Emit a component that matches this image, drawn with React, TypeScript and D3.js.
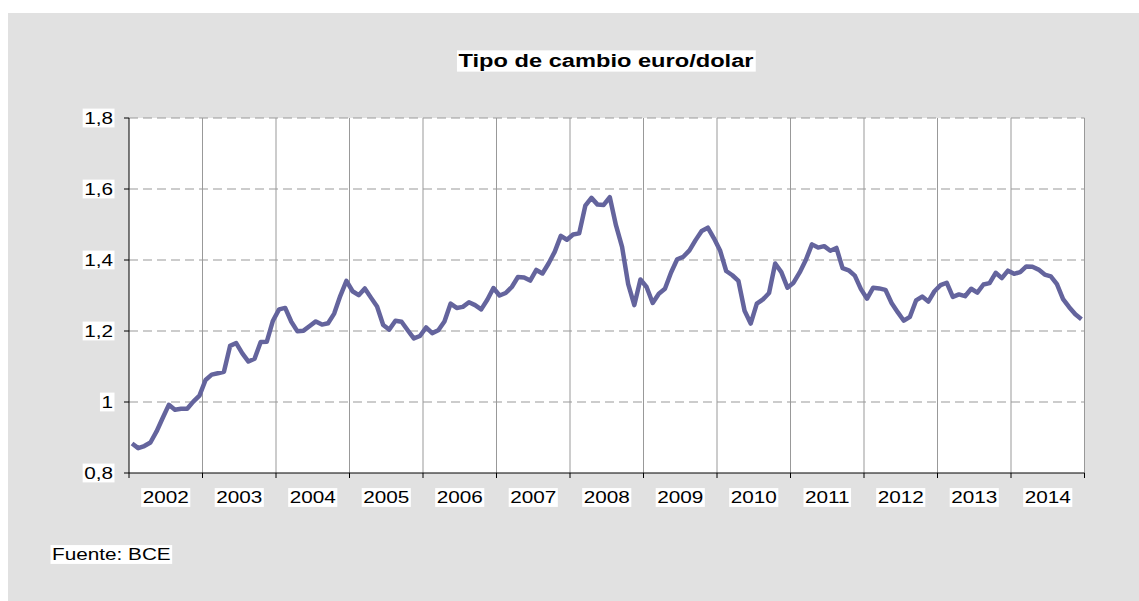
import React, { useEffect, useRef } from 'react';
import * as d3 from 'd3';

// monthly averages USD per EUR (ECB), Jan 2002 - Dec 2014
const years = [2002, 2003, 2004, 2005, 2006, 2007, 2008, 2009, 2010, 2011, 2012, 2013, 2014];
const rates = [
  0.883, 0.870, 0.876, 0.886, 0.917, 0.955, 0.992, 0.978, 0.981, 0.981, 1.001, 1.018,
  1.062, 1.077, 1.081, 1.085, 1.158, 1.166, 1.137, 1.114, 1.122, 1.169, 1.170, 1.229,
  1.261, 1.265, 1.226, 1.199, 1.201, 1.214, 1.227, 1.218, 1.222, 1.249, 1.299, 1.341,
  1.312, 1.301, 1.320, 1.294, 1.269, 1.217, 1.204, 1.229, 1.226, 1.202, 1.179, 1.186,
  1.210, 1.194, 1.202, 1.227, 1.277, 1.265, 1.268, 1.281, 1.273, 1.261, 1.288, 1.321,
  1.300, 1.307, 1.324, 1.352, 1.351, 1.342, 1.372, 1.362, 1.390, 1.423, 1.468, 1.457,
  1.472, 1.475, 1.553, 1.575, 1.556, 1.555, 1.577, 1.498, 1.437, 1.332, 1.273, 1.345,
  1.324, 1.279, 1.305, 1.319, 1.365, 1.402, 1.409, 1.427, 1.456, 1.482, 1.491, 1.461,
  1.427, 1.369, 1.357, 1.341, 1.257, 1.221, 1.277, 1.289, 1.307, 1.390, 1.366, 1.322,
  1.336, 1.365, 1.400, 1.444, 1.435, 1.439, 1.426, 1.434, 1.377, 1.371, 1.356, 1.318,
  1.291, 1.322, 1.320, 1.316, 1.279, 1.253, 1.229, 1.240, 1.286, 1.297, 1.283, 1.312,
  1.329, 1.336, 1.296, 1.303, 1.298, 1.319, 1.308, 1.331, 1.335, 1.364, 1.349, 1.370,
  1.361, 1.366, 1.382, 1.381, 1.373, 1.359, 1.354, 1.332, 1.290, 1.267, 1.247, 1.233
];
const yTicks = [0.8, 1, 1.2, 1.4, 1.6, 1.8];
const title = 'Tipo de cambio euro/dolar';
const source = 'Fuente: BCE';

const W = 1139, H = 601;
const FONT = '"Liberation Sans", Arial, sans-serif';
const SX = 1.22; // the original text is drawn stretched sideways

const es = d3.formatLocale({ decimal: ',', thousands: '.', grouping: [3], currency: ['', ' €'] });
const fmt = es.format('~g');

function boxedText(parent: any, x: number, y: number, str: string, anchor: string, size: number, bold: boolean, sx: number) {
  const g = parent.append('g').attr('transform', `translate(${x},${y}) scale(${sx},1)`);
  const rect = g.append('rect').attr('fill', '#fff');
  const t = g.append('text')
    .attr('text-anchor', anchor)
    .attr('dominant-baseline', 'central')
    .attr('font-family', FONT)
    .attr('font-size', size)
    .attr('font-weight', bold ? 'bold' : 'normal')
    .attr('fill', '#000')
    .text(str);
  const bb = t.node().getBBox();
  const pad = 1.5 / sx;
  rect.attr('x', bb.x - pad).attr('y', bb.y).attr('width', bb.width + 2 * pad).attr('height', bb.height);
}

export default function App() {
  const ref = useRef<SVGSVGElement>(null);

  useEffect(() => {
    const svg = d3.select(ref.current);
    svg.selectAll('*').remove();

    const left = 129, right = 1084.5, top = 118, bottom = 473;

    const x = d3.scaleLinear().domain([0, years.length * 12]).range([left, right]);
    const y = d3.scaleLinear().domain([0.8, 1.8]).range([bottom, top]);

    svg.append('rect').attr('x', 8).attr('y', 13).attr('width', W - 8).attr('height', H - 13).attr('fill', '#e1e1e1');
    svg.append('rect').attr('x', left).attr('y', top).attr('width', right - left).attr('height', bottom - top).attr('fill', '#fff');

    // vertical grid at year boundaries
    const bounds = d3.range(1, years.length + 1).map(i => i * 12);
    svg.append('g').selectAll('line').data(bounds).join('line')
      .attr('x1', d => x(d)).attr('x2', d => x(d))
      .attr('y1', top).attr('y2', bottom)
      .attr('stroke', '#999').attr('stroke-width', 1);

    // horizontal dashed grid
    svg.append('g').selectAll('line').data(yTicks.slice(1)).join('line')
      .attr('x1', left).attr('x2', right)
      .attr('y1', d => y(d)).attr('y2', d => y(d))
      .attr('stroke', '#999').attr('stroke-width', 1).attr('stroke-dasharray', '9,5');

    // axes
    svg.append('line').attr('x1', left).attr('x2', left).attr('y1', top).attr('y2', bottom).attr('stroke', '#000');
    svg.append('line').attr('x1', left).attr('x2', right).attr('y1', bottom).attr('y2', bottom).attr('stroke', '#000');
    svg.append('g').selectAll('line').data(yTicks).join('line')
      .attr('x1', left - 5).attr('x2', left)
      .attr('y1', d => y(d)).attr('y2', d => y(d)).attr('stroke', '#000');
    svg.append('g').selectAll('line').data([0, ...bounds]).join('line')
      .attr('x1', d => x(d)).attr('x2', d => x(d))
      .attr('y1', bottom).attr('y2', bottom + 5).attr('stroke', '#000');

    // series
    const line = d3.line<number>().x((_, i) => x(i + 0.5)).y(d => y(d));
    svg.append('path').datum(rates)
      .attr('d', line)
      .attr('fill', 'none')
      .attr('stroke', '#64649d')
      .attr('stroke-width', 4.5)
      .attr('stroke-linejoin', 'round');

    // labels
    yTicks.forEach(t => boxedText(svg, 113, y(t), fmt(t), 'end', 17, false, SX));
    years.forEach((yr, i) => boxedText(svg, x(i * 12 + 6), 497.5, String(yr), 'middle', 17, false, SX));
    boxedText(svg, 606, 61, title, 'middle', 19, true, 1.245);
    boxedText(svg, 52, 554.5, source, 'start', 17, false, SX);
  }, []);

  return (
    <svg ref={ref} width={W} height={H} style={{ position: 'absolute', left: 0, top: 0, display: 'block' }} />
  );
}
